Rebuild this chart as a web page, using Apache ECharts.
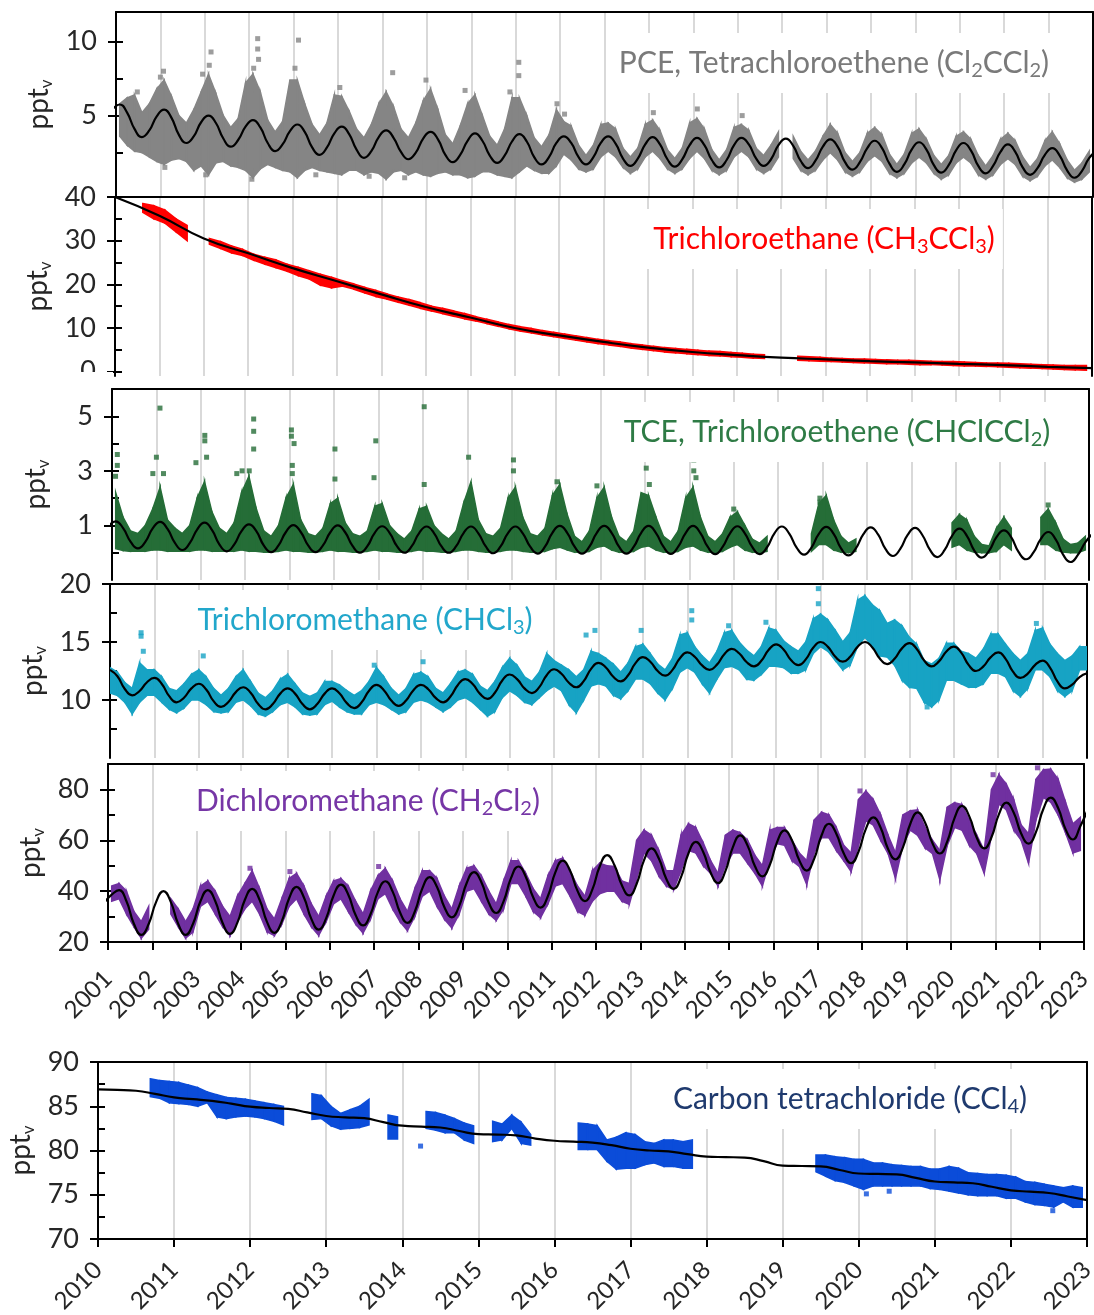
<!DOCTYPE html>
<html>
<head>
<meta charset="utf-8">
<title>Chlorinated trace gases</title>
<script src="https://cdn.jsdelivr.net/npm/echarts@6.0.0/dist/echarts.min.js"></script>
<style>
  html, body { margin: 0; padding: 0; background: #fff; }
  #chart { width: 1094px; height: 1315px; }
</style>
</head>
<body>
<div id="chart"></div>
<script>
// ---------- values ----------
// 2-monthly samples. fits start at 2000.917, scatter envelopes (lo/hi) start at 2001.083

// PCE
const pceFit = [5.4,
  5.75,5.2,4.1,3.55,4.0,4.95,   5.4,4.85,3.7,3.15,3.6,4.55,   5.0,4.5,3.45,2.9,3.35,4.25,
  4.7,4.2,3.15,2.6,3.05,3.95,   4.4,3.9,2.85,2.35,2.85,3.8,   4.25,3.75,2.7,2.15,2.6,3.55,
  4.0,3.5,2.55,2.05,2.5,3.45,   3.9,3.4,2.35,1.85,2.35,3.3,   3.8,3.3,2.3,1.8,2.3,3.25,
  3.75,3.25,2.2,1.7,2.2,3.15,   3.6,3.15,2.2,1.7,2.2,3.15,    3.6,3.1,2.1,1.6,2.1,3.05,
  3.55,3.05,2.05,1.55,2.05,3.0, 3.5,3.0,2.0,1.5,2.0,3.0,      3.5,3.05,2.1,1.6,2.05,3.0,
  3.45,2.95,1.95,1.45,1.95,2.9, 3.4,2.9,1.85,1.35,1.85,2.8,   3.3,2.8,1.75,1.2,1.7,2.7,
  3.2,2.7,1.65,1.15,1.65,2.65,  3.15,2.65,1.6,1.1,1.6,2.55,   3.05,2.55,1.5,1.0,1.45,2.35,
  2.8,2.3,1.3,0.8,1.25,2.15,
  2.6];
const pceLo = [
  3.6,3.0,2.6,2.5,2.2,1.9,  1.7,2.0,2.1,1.9,1.3,1.6,  1.0,1.8,1.9,1.6,1.5,1.3,  0.8,1.4,1.7,1.5,1.3,1.2,
  0.8,1.3,1.5,1.3,1.2,1.1,  1.0,1.3,1.3,1.0,1.2,1.1,  0.7,1.2,1.3,1.0,1.2,1.0,  0.9,1.1,1.2,1.0,1.0,0.8,
  0.9,1.2,1.2,1.0,0.9,0.8,  1.2,1.6,1.3,1.1,1.1,1.6,  2.4,2.0,1.4,1.2,1.4,2.2,  2.6,2.2,1.5,1.1,1.4,2.2,
  2.6,2.1,1.4,1.1,1.4,2.1,  2.6,2.1,1.3,1.0,1.3,2.2,  2.6,2.2,1.4,1.1,1.4,2.2,  null,2.1,1.3,1.0,1.3,2.0,
  2.5,2.0,1.2,0.9,1.2,1.9,  2.3,1.9,1.1,0.8,1.1,1.8,  2.2,1.8,1.1,0.7,1.0,1.8,  2.2,1.8,1.0,0.7,1.0,1.7,
  2.1,1.7,0.9,0.6,0.9,1.6,  2.0,1.5,0.8,0.5,0.7,1.2];
const pceHi = [
  5.8,6.2,6.4,5.2,5.8,6.8,  7.4,6.3,5.0,4.5,5.4,6.6,  7.8,6.5,5.0,4.2,4.8,7.2,  7.8,6.6,4.7,3.9,4.6,7.4,
  7.4,5.8,4.4,3.7,4.5,6.4,  6.3,5.3,4.1,3.5,4.4,5.8,  6.6,5.6,4.1,3.5,4.5,6.0,  6.8,5.4,3.7,3.1,4.3,5.8,
  6.4,5.0,3.6,3.0,4.1,6.2,  6.2,5.0,3.5,2.9,3.7,5.4,  4.6,4.3,3.0,2.3,3.0,4.4,  4.5,4.1,2.8,2.2,2.8,4.4,
  4.7,4.0,2.7,2.1,2.8,4.5,  4.8,4.1,2.7,2.0,2.7,4.2,  4.4,4.0,2.8,2.3,3.0,3.9,  null,3.6,2.6,2.0,2.6,3.6,
  4.4,3.8,2.5,1.9,2.5,3.8,  4.2,3.7,2.4,1.7,2.4,3.8,  4.1,3.4,2.3,1.7,2.3,3.6,  3.9,3.4,2.3,1.6,2.3,3.4,
  3.8,3.3,2.2,1.5,2.1,3.3,  3.9,3.1,2.0,1.3,1.8,2.6];
const pceSpikes = [[2001.48,6.6],[2002.07,8.0],[2002.0,7.6],[2003.14,9.3],[2002.95,7.8],[2003.1,8.4],[2004.19,10.2],
  [2004.19,9.5],[2004.21,8.8],[2004.1,8.2],[2005.11,10.1],[2005.03,8.2],[2006.04,6.9],[2007.23,7.9],[2007.98,7.4],
  [2008.86,6.7],[2010.07,8.6],[2010.07,7.7],[2009.87,6.6],[2010.93,5.8],[2014.09,5.45],[2015.1,5.0],
  [2011.1,5.1],[2013.1,5.2],[2003.02,1.0],[2004.06,0.7],[2002.1,1.5],[2005.5,1.0],[2006.7,0.9],[2007.5,0.8]];

// 1,1,1-trichloroethane: yearly fit from 2001, quarterly envelope from 2001.625
const tcaFit = [40,35.7,30.5,27.1,23.7,20.7,17.7,14.8,12.4,10.0,8.3,6.8,5.5,4.5,3.8,3.2,2.8,2.4,2.1,1.8,1.5,1.1,0.8];
const tcaLo = [36.5,35.0,
  34.0,32.0,30.0,null, 29.2,28.2,27.2,26.6, 25.5,24.6,23.8,23.0, 22.0,21.2,19.8,19.2,
  19.6,18.9,18.0,17.2, 16.6,15.9,15.2,14.5, 13.9,13.3,12.7,12.1, 11.6,11.0,10.4,9.8,
  9.3,8.9,8.4,8.0, 7.6,7.2,6.8,6.4, 6.1,5.8,5.4,5.1, 4.8,4.5,4.3,4.1, 3.9,3.7,3.6,3.4,
  3.3,3.1,3.0,null, null,2.6,2.5,2.4, 2.3,2.2,2.1,2.0, 1.9,1.8,1.8,1.7, 1.6,1.6,1.5,1.4,
  1.3,1.3,1.2,1.1, 1.0,0.9,0.8,0.7, 0.6,0.5,0.4,0.3];
const tcaHi = [38.5,38.0,
  37.0,35.0,33.5,null, 30.5,29.8,28.8,28.0, 26.9,26.2,25.6,24.6, 23.9,23.1,22.3,21.6,
  20.8,20.1,19.3,18.6, 17.8,17.1,16.5,15.8, 15.0,14.5,13.9,13.3, 12.6,12.0,11.4,10.8,
  10.3,9.9,9.4,9.0, 8.6,8.2,7.8,7.4, 7.1,6.8,6.4,6.1, 5.8,5.5,5.3,5.1, 4.9,4.7,4.6,4.4,
  4.2,4.0,3.9,null, null,3.5,3.4,3.3, 3.1,3.0,2.9,2.9, 2.8,2.7,2.6,2.6, 2.5,2.4,2.3,2.3,
  2.2,2.1,2.0,2.0, 1.9,1.8,1.7,1.6, 1.5,1.4,1.4,1.4];

// TCE
const tceFit = [0.95,
  1.15,0.9,0.41,0.16,0.4,0.89,  1.13,0.87,0.36,0.10,0.35,0.85, 1.10,0.84,0.31,0.05,0.3,0.79,
  1.04,0.79,0.27,0.02,0.27,0.76, 1.01,0.76,0.27,0.02,0.27,0.75, 1.0,0.75,0.25,0.0,0.24,0.73,
  0.97,0.73,0.24,0.0,0.24,0.72, 0.96,0.72,0.24,0.0,0.24,0.72,  0.96,0.71,0.23,-0.02,0.23,0.72,
  0.96,0.71,0.22,-0.03,0.22,0.73, 0.98,0.73,0.22,-0.03,0.22,0.73, 0.98,0.73,0.22,-0.03,0.22,0.73,
  0.98,0.72,0.22,-0.04,0.22,0.72, 0.98,0.72,0.21,-0.05,0.21,0.71, 0.97,0.71,0.21,-0.05,0.2,0.71,
  0.96,0.7,0.19,-0.07,0.19,0.69, 0.95,0.69,0.16,-0.1,0.16,0.67, 0.93,0.67,0.14,-0.12,0.14,0.65,
  0.91,0.64,0.11,-0.16,0.1,0.62, 0.88,0.62,0.08,-0.18,0.07,0.57, 0.82,0.56,0.02,-0.24,0.01,0.51,
  0.76,0.49,-0.07,-0.34,-0.08,0.38,
  0.7];
const tceLo = [
  0.15,0.08,0.05,0.05,0.05,0.1, 0.1,0.05,0.05,0.05,0.05,0.1, 0.1,0.05,0.05,0.05,0.05,0.1, 0.05,0.05,0.02,0.02,0.05,0.1,
  0.05,0.05,0.02,0.02,0.05,0.1, 0.05,0.05,0.02,0.02,0.05,0.1, 0.05,0.05,0.02,0.02,0.05,0.1, 0.05,0.05,0.02,0.02,0.05,0.1,
  0.1,0.05,0.02,0.02,0.05,0.1, 0.1,0.05,0.02,0.02,0.05,0.15, 0.2,0.1,0.02,0.0,0.05,0.2, 0.25,0.1,0.02,0.0,0.05,0.2,
  0.25,0.1,0.02,0.0,0.05,0.2, 0.25,0.1,0.02,0.0,0.05,0.2, 0.3,0.1,0.02,0.0,0.05,null, null,null,null,null,0.05,0.3,
  0.3,0.1,0.02,0.0,0.05,null, null,null,null,null,null,null, null,null,null,null,null,0.2, 0.3,0.1,0.02,0.0,0.0,0.05,
  0.3,0.1,null,null,null,0.3, 0.3,0.1,0.02,0.0,0.0,0.1];
const tceHi = [
  2.2,1.3,0.8,0.7,1.0,1.6, 2.4,1.2,0.9,0.7,1.0,2.0, 2.6,1.5,0.9,0.7,1.1,2.2, 2.8,1.6,0.8,0.6,1.0,2.0,
  2.5,1.2,0.7,0.6,0.9,1.8, 2.0,1.1,0.7,0.6,0.8,1.7, 1.8,1.0,0.7,0.5,0.8,1.6, 1.7,1.0,0.7,0.5,0.8,1.8,
  2.6,1.2,0.7,0.6,0.9,2.0, 2.4,1.3,0.7,0.6,0.9,2.1, 2.5,1.4,0.6,0.4,0.8,2.0, 2.4,1.3,0.6,0.4,0.8,2.2,
  2.1,1.3,0.6,0.4,0.8,2.0, 2.4,1.3,0.6,0.4,0.7,1.3, 1.5,1.0,0.5,0.35,0.6,null, null,null,null,null,0.7,1.8,
  2.1,1.2,0.6,0.35,0.5,null, null,null,null,null,null,null, null,null,null,null,null,1.1, 1.4,1.2,0.6,0.3,0.25,0.9,
  1.3,0.9,null,null,null,1.3, 1.6,1.1,0.5,0.3,0.35,0.6];
const tceSpikes = [[2001.12,3.6],[2001.12,3.2],[2001.08,2.8],[2002.08,5.3],[2002.0,3.5],[2001.92,2.9],[2002.16,2.9],
  [2003.09,4.3],[2003.09,4.1],[2003.13,3.5],[2002.89,3.3],[2004.19,4.9],[2004.19,4.45],[2004.19,3.8],[2004.09,3.0],
  [2003.81,2.9],[2003.93,3.0],[2005.04,4.5],[2005.04,4.27],[2005.1,4.0],[2005.06,3.2],[2005.06,2.9],[2006.02,3.8],
  [2006.02,2.7],[2006.94,4.1],[2006.9,2.75],[2008.03,5.35],[2008.03,2.5],[2009.03,3.5],[2010.04,3.4],[2010.04,3.0],
  [2011.02,2.6],[2011.92,2.45],[2013.03,3.57],[2013.03,3.1],[2013.1,2.5],[2014.1,3.4],[2014.1,3.0],[2014.15,2.75],
  [2015.0,1.6],[2016.94,2.0],[2016.94,1.85],[2022.08,1.75]];

// chloroform: fit and envelope both 2-monthly from 2001.0
const chcl3Fit = [
  12.6,12.05,10.95,10.4,10.78,11.53, 11.9,11.38,10.33,9.8,10.2,11.0, 11.4,10.9,9.9,9.4,9.83,10.68,
  11.1,10.63,9.68,9.2,9.65,10.55, 11.0,10.55,9.65,9.2,9.65,10.55, 11.0,10.58,9.73,9.3,9.8,10.8,
  11.3,10.85,9.95,9.5,9.95,10.85, 11.3,10.93,10.18,9.8,10.3,11.3, 11.8,11.38,10.53,10.1,10.63,11.68,
  12.2,11.8,11.0,10.6,11.11,12.14, 12.65,12.26,11.49,11.1,11.63,12.68, 13.2,12.8,12.0,11.6,12.13,13.18,
  13.7,13.3,12.5,12.1,12.6,13.6, 14.1,13.73,12.98,12.6,13.05,13.95, 14.4,14.03,13.28,12.9,13.38,14.33,
  14.8,14.35,13.45,13.0,13.5,14.5, 15.0,14.58,13.73,13.3,13.73,14.58, 15.0,14.53,13.58,13.1,13.55,14.45,
  14.9,14.4,13.4,12.9,13.33,14.18, 14.6,14.08,13.03,12.5,12.9,13.7, 14.1,13.55,12.45,11.9,12.28,13.03,
  13.4,12.8,11.6,11.0,11.33,11.98,
  12.3];
const chcl3Lo = [
  10.6,10.4,9.8,8.8,9.8,10.4, 10.4,9.8,9.2,8.9,9.3,10.0, 10.0,9.6,9.0,8.9,9.0,9.8, 10.0,9.5,8.8,8.6,9.0,9.6,
  9.8,9.4,8.8,8.7,8.8,9.6, 9.9,9.4,9.0,8.8,8.8,9.6, 9.8,9.6,9.2,8.8,9.0,9.8, 10.0,9.8,9.4,9.0,9.4,10.0,
  10.2,9.8,9.2,8.6,9.0,10.2, 10.8,10.4,9.8,9.6,10.2,10.8, 11.2,10.8,9.6,8.9,10.0,11.2, 11.4,11.2,10.4,10.1,10.8,11.8,
  11.8,11.4,10.6,10.0,11.0,12.4, 12.8,12.4,11.4,10.6,11.8,12.8, 12.9,12.6,11.8,11.7,12.2,12.9, 12.9,12.8,12.3,12.3,12.6,14.0,
  14.6,14.2,13.4,12.6,13.0,14.6, 15.4,14.6,13.8,13.7,13.0,11.7, 11.1,11.0,9.8,9.4,10.0,11.7, 11.7,11.4,11.1,11.1,11.4,12.3,
  12.3,12.0,10.8,10.3,11.0,12.6, 12.6,12.0,10.8,10.3,10.8,12.6,
  12.6];
const chcl3Hi = [
  12.8,12.4,11.5,11.0,13.2,12.6, 12.6,12.0,11.0,10.8,11.4,12.2, 12.6,12.0,11.0,10.4,11.0,12.0, 12.6,11.6,10.6,10.2,10.8,11.8,
  12.2,11.4,10.6,10.3,10.6,11.6, 11.6,11.3,10.8,10.4,10.8,11.6, 12.8,12.0,11.0,10.4,11.0,12.2, 12.4,12.0,11.0,10.6,11.4,12.4,
  12.6,12.2,11.2,10.8,11.6,12.8, 13.6,13.0,12.0,11.6,12.4,14.0, 13.4,13.0,12.6,12.0,12.6,14.2, 14.0,13.6,13.1,12.4,13.2,14.6,
  14.8,14.0,13.1,12.6,13.6,15.6, 15.8,14.6,13.8,13.2,14.2,15.8, 16.0,15.0,14.3,13.8,14.6,16.2, 16.0,15.1,14.6,14.2,15.0,17.0,
  17.4,16.9,16.0,15.0,15.8,18.6, 19.0,18.2,17.7,16.6,16.9,16.4, 15.4,14.8,13.4,13.1,13.6,14.9, 14.9,14.2,14.0,13.6,14.4,15.7,
  15.7,14.8,14.0,13.4,14.0,16.0, 16.2,14.8,14.0,13.4,13.8,14.6,
  14.6];
const chcl3Spikes = [[2001.7,15.8],[2001.7,15.5],[2001.75,14.2],[2003.1,13.8],[2006.95,13.0],[2008.05,13.3],
  [2011.72,15.6],[2011.92,16.0],[2012.96,16.0],[2014.1,17.7],[2014.1,16.9],[2014.93,16.4],[2015.77,16.7],
  [2016.95,19.6],[2016.95,18.3],[2021.86,16.6],[2019.4,9.4]];

// dichloromethane
const ch2cl2Fit = [35.5,
  38.6,40.4,36.0,27.2,22.8,27.1, 35.7,40.0,35.7,27.1,22.8,27.2, 36.0,40.4,36.1,27.5,23.2,27.6,
  36.5,40.9,36.6,27.9,23.6,28.1, 37.2,41.7,37.5,29.1,24.9,29.3, 38.2,42.6,38.6,30.5,26.5,30.9,
  39.6,43.9,39.8,31.6,27.5,32.0, 41.0,45.5,41.6,33.7,29.7,34.2, 43.1,47.5,43.5,35.4,31.4,36.0,
  45.1,49.7,45.7,37.6,33.5,38.1, 47.4,52.0,48.0,40.1,36.1,40.6, 49.7,54.2,50.2,42.3,38.3,42.9,
  52.2,56.8,52.8,44.9,40.9,45.5, 54.8,59.4,55.4,47.3,43.2,47.9, 57.2,61.9,57.9,49.8,45.8,50.3,
  59.4,63.9,60.0,52.1,48.1,52.7, 61.9,66.5,62.6,54.9,51.0,55.5, 64.5,69.0,64.9,56.6,52.5,57.1,
  66.4,71.0,67.0,58.9,54.8,59.5, 68.8,73.5,69.3,61.0,56.8,61.3, 70.3,74.8,70.8,62.7,58.7,63.2,
  72.3,76.8,72.7,64.4,60.3,65.5,
  72.0];
const ch2cl2Lo = [
  36,37,31,26,21.5,25, null,null,31,26,21.5,24, 34,36,31,26,22.5,28, 33,36,31,24,22.5,27,
  34,37,31,26,22.6,28, 35,37,32,27,23.5,29, 37,39,33,28,24.5,30, 38,40,34,29,25.5,31,
  40,41,36,31,28.5,33, 43,43,38,32,29.5,35, 42,43,38,32,30.5,36, 39,40,40,36,34.8,45,
  55,52,46,42,40.6,48, 56,55,50,47,42,50, 55,55,51,47,42,52, 58.7,58,52,49.7,42.6,55,
  61,61,56,52,47.7,58, 67.7,66,60,54.8,45,58, 64,62,57,54.8,44.5,58, 65,64,58,54.8,47,62,
  74.2,72,64,60,51,68, 76.8,75,70,63,55,56];
const ch2cl2Hi = [
  42,43,40,32,28,34, null,null,37,33,28,33, 42,44,40,34,30,38, 43,48,41,33,29,37,
  45,47,42,35,30,38, 44,45,42,36,31,40, 46,49,44,37,32,41, 48,48,45,38,33,42,
  49,50,46,40,35,44, 52,52,47,41,37,46, 52,53,48,42,38,48, 51,50,49.7,44,43,60,
  64,62,56,48,48,62, 66.5,65,59,52,47,62, 64,63,60,54,50,64, 65,65,60,55,52,68,
  71,70,65,58,55,76, 79.4,76,70,62,55,70, 71.6,72,65,60,56,73, 74.8,74,67.7,62,56,80,
  85.8,82,76,66,62.6,84, 87.7,88,84,75,66.5,69];
const ch2cl2Spikes = [[2005.1,47.7],[2007.1,49.7],[2004.2,49.0],[2017.95,79.4],[2020.95,85.8],[2021.95,88.5],[2022.75,58.5]];

// carbon tetrachloride: quarterly fit from 2010, envelope in 1/8-year bins from 2010.0625
const ccl4Fit = [
  86.9,86.85,86.75,86.4, 86.0,85.8,85.6,85.3, 84.95,84.8,84.7,84.3, 83.9,83.75,83.65,83.2,
  82.8,82.7,82.6,82.2, 81.85,81.8,81.7,81.35, 81.1,81.0,80.9,80.6, 80.2,80.0,79.9,79.6,
  79.3,79.25,79.2,78.8, 78.3,78.25,78.2,77.8, 77.4,77.35,77.3,76.9, 76.5,76.4,76.3,75.9,
  75.5,75.35,75.2,74.8, 74.4];
const ccl4Lo = [
  null,null,null,null,null,86.1,85.9,85.4,  85.3,85.2,85.0,85.4,83.8,83.6,83.8,83.9,
  83.8,83.6,83.3,82.9,null,null,83.5,83.6,  82.8,82.4,82.5,82.6,82.9,null,81.3,81.3,
  null,null,82.5,82.3,82.0,82.0,81.2,80.8,  null,81.0,81.2,82.5,80.8,80.6,null,null,
  null,null,80.1,80.1,80.1,78.8,77.9,78.0,  78.0,78.4,78.6,78.2,78.2,78.0,78.0,null,
  null,null,null,null,null,null,null,null,  null,null,null,77.6,77.1,76.6,76.4,76.0,
  75.6,76.0,76.0,76.0,76.0,76.0,76.0,75.7,  75.6,75.4,75.2,75.0,74.9,74.9,74.9,74.6,
  74.6,74.2,73.9,73.8,73.6,74.2,73.6,73.6];
const ccl4Hi = [
  null,null,null,null,null,88.1,87.9,87.8,  87.7,87.4,87.1,86.6,86.3,86.0,85.9,85.8,
  85.6,85.4,85.2,85.0,null,null,86.4,86.2,  85.0,84.2,84.6,85.0,85.8,null,84.0,83.8,
  null,null,84.4,84.3,84.0,83.6,83.1,82.8,  null,83.3,83.0,84.0,83.2,81.8,null,null,
  null,null,83.1,83.0,82.8,81.2,81.5,82.0,  81.8,81.0,80.8,81.2,81.2,81.0,81.2,null,
  null,null,null,null,null,null,null,null,  null,null,null,79.5,79.5,79.3,79.2,79.0,
  79.0,78.6,78.6,78.4,78.3,78.2,78.2,77.9,  77.9,78.2,78.0,77.5,77.4,77.3,77.3,77.2,
  77.0,76.5,76.4,76.2,76.0,75.8,76.0,75.8];
const ccl4Spikes = [[2014.24,80.5],[2022.55,73.2],[2020.1,75.1],[2020.4,75.4],[2011.4,86.2]];

// ---------- layout ----------
const FONT = 'Lato, "Open Sans", sans-serif';
const INK = '#262626';
const panels = [
  { left: 116, top: 12,   width: 977, height: 185, xmin: 2001, ymin: -0.5, ymax: 12, labels: [5, 10], major: [5, 10], all: [2.5, 5, 7.5, 10] },
  { left: 115, top: 197,  width: 977, height: 179, xmin: 2001, ymin: -1, ymax: 40, labels: [0, 10, 20, 30, 40], major: [0, 10, 20, 30, 40], all: [0, 5, 10, 15, 20, 25, 30, 35, 40] },
  { left: 112, top: 389,  width: 977, height: 191, xmin: 2001, ymin: -1, ymax: 6, labels: [1, 3, 5], major: [1, 3, 5], all: [0, 1, 2, 3, 4, 5, 6] },
  { left: 110, top: 584,  width: 977, height: 174, xmin: 2001, ymin: 5, ymax: 20, labels: [10, 15, 20], major: [10, 15, 20], all: [7.5, 10, 12.5, 15, 17.5, 20] },
  { left: 108, top: 764,  width: 976, height: 178, xmin: 2001, ymin: 20, ymax: 90, labels: [20, 40, 60, 80], major: [20, 40, 60, 80], all: [20, 30, 40, 50, 60, 70, 80, 90], years: 33 },
  { left: 98,  top: 1062, width: 989, height: 177, xmin: 2010, ymin: 70, ymax: 90, labels: [70, 75, 80, 85, 90], major: [70, 75, 80, 85, 90], all: [70, 72.5, 75, 77.5, 80, 82.5, 85, 87.5, 90], years: 27 }
];

const axisLine = { show: true, onZero: false, lineStyle: { color: '#000', width: 2 } };
const grids = [], xAxes = [], yAxes = [];
panels.forEach((p, i) => {
  grids.push({ left: p.left, top: p.top, width: p.width, height: p.height, containLabel: false, outerBoundsMode: 'none' });
  xAxes.push({
    gridIndex: i, type: 'value', position: 'bottom', min: p.xmin, max: 2023, interval: 1,
    axisLine: { ...axisLine, show: !!p.years },
    axisTick: { show: !!p.years, length: 8, lineStyle: { color: '#000', width: 2 } },
    axisLabel: { show: !!p.years, rotate: 45, fontSize: 24, color: INK, fontFamily: FONT, margin: p.years || 10,
      showMinLabel: true, showMaxLabel: true, formatter: v => String(v) },
    splitLine: { show: true, lineStyle: { color: '#D9D9D9', width: 2 } }
  });
  xAxes.push({ gridIndex: i, type: 'value', position: 'top', min: 0, max: 1, axisLine,
    axisTick: { show: false }, axisLabel: { show: false }, splitLine: { show: false } });
  yAxes.push({
    gridIndex: i, type: 'value', position: 'left', min: p.ymin, max: p.ymax,
    axisLine,
    axisTick: { show: true, length: 8, customValues: p.major, lineStyle: { color: '#000', width: 2 } },
    axisLabel: { customValues: p.labels, fontSize: 27, color: INK, fontFamily: FONT, margin: 19, formatter: v => String(v) },
    splitLine: { show: false },
    name: '{a|ppt}{b|v}', nameLocation: 'middle', nameRotate: 90, nameGap: 60,
    nameTextStyle: { color: INK, fontFamily: FONT,
      rich: { a: { fontSize: 28, lineHeight: 32, fontFamily: FONT, color: INK },
              b: { fontSize: 17, lineHeight: 17, verticalAlign: 'bottom', fontFamily: FONT, color: INK } } }
  });
  yAxes.push({ gridIndex: i, type: 'value', position: 'left', min: p.ymin, max: p.ymax,
    axisLine: { show: false }, axisLabel: { show: false }, splitLine: { show: false },
    axisTick: { show: true, inside: true, length: 7, customValues: p.all, lineStyle: { color: '#000', width: 2 } } });
  yAxes.push({ gridIndex: i, type: 'value', position: 'right', min: 0, max: 1, axisLine,
    axisTick: { show: false }, axisLabel: { show: false }, splitLine: { show: false } });
});

function xs(t0, step, n) { return Array.from({ length: n }, (_, i) => t0 + i * step); }

// scatter envelope: trapezoids between neighbouring bins, small box for lone bins
function band(p, t0, step, lo, hi, color) {
  const t = xs(t0, step, lo.length);
  const ok = i => i >= 0 && i < lo.length && lo[i] != null && hi[i] != null;
  const data = [];
  lo.forEach((v, i) => {
    if (!ok(i)) return;
    if (ok(i + 1)) data.push([t[i], v, hi[i], t[i + 1], lo[i + 1], hi[i + 1]]);
    else if (!ok(i - 1)) data.push([t[i] - step * 0.3, v, hi[i], t[i] + step * 0.3, v, hi[i]]);
  });
  return {
    type: 'custom', xAxisIndex: 2 * p, yAxisIndex: 3 * p, clip: true, silent: true, z: 2,
    encode: { x: [0, 3], y: [1, 2, 4, 5] },
    renderItem: (params, api) => {
      const pts = [
        api.coord([api.value(0), api.value(2)]), api.coord([api.value(3), api.value(5)]),
        api.coord([api.value(3), api.value(4)]), api.coord([api.value(0), api.value(1)])
      ];
      return { type: 'polygon', shape: { points: pts }, style: { fill: color, stroke: color, lineWidth: 1.5 } };
    },
    data
  };
}
function fit(p, t0, step, vals) {
  return { type: 'line', xAxisIndex: 2 * p, yAxisIndex: 3 * p, silent: true, z: 4, smooth: true,
    symbol: 'none', lineStyle: { color: '#000', width: 2.2 },
    data: xs(t0, step, vals.length).map((t, i) => [t, vals[i]]) };
}
function dots(p, pts, color) {
  return { type: 'scatter', xAxisIndex: 2 * p, yAxisIndex: 3 * p, silent: true, z: 3,
    symbol: 'rect', symbolSize: 5, itemStyle: { color }, data: pts };
}

const C = { pce: '#858585', tca: '#FF0000', tce: '#256D37', chcl3: '#17A3C4', ch2cl2: '#7030A0', ccl4: '#0B4CD9' };
const s6 = 1 / 6, b0 = 2001 + 1 / 12, f0 = 2001 - 1 / 12;
const series = [
  band(0, b0, s6, pceLo, pceHi, C.pce), dots(0, pceSpikes, C.pce), fit(0, f0, s6, pceFit),
  band(1, 2001.625, 0.25, tcaLo, tcaHi, C.tca), fit(1, 2001, 1, tcaFit),
  band(2, b0, s6, tceLo, tceHi, C.tce), dots(2, tceSpikes, C.tce), fit(2, f0, s6, tceFit),
  band(3, 2001, s6, chcl3Lo, chcl3Hi, C.chcl3), dots(3, chcl3Spikes, C.chcl3), fit(3, 2001, s6, chcl3Fit),
  band(4, b0, s6, ch2cl2Lo, ch2cl2Hi, C.ch2cl2), dots(4, ch2cl2Spikes, C.ch2cl2), fit(4, f0, s6, ch2cl2Fit),
  band(5, 2010.0625, 0.125, ccl4Lo, ccl4Hi, C.ccl4), dots(5, ccl4Spikes, C.ccl4), fit(5, 2010, 0.25, ccl4Fit)
];

function label(x, y, text, color) {
  return { type: 'text', x, y, z: 100, silent: true,
    style: { text, fill: color, align: 'center', verticalAlign: 'middle', backgroundColor: '#fff', padding: [12, 8],
      rich: { a: { fontSize: 30, lineHeight: 36, fontFamily: FONT, fill: color },
              s: { fontSize: 20, lineHeight: 20, verticalAlign: 'bottom', fontFamily: FONT, fill: color } } } };
}
const graphic = [
  { type: 'rect', z: 100, silent: true, shape: { x: 0, y: 372, width: 113, height: 16 }, style: { fill: '#fff' } },
  label(834, 63, '{a|PCE, Tetrachloroethene (Cl}{s|2}{a|CCl}{s|2}{a|)}', '#7A7A7A'),
  label(824, 239, '{a|Trichloroethane (CH}{s|3}{a|CCl}{s|3}{a|)}', '#FF0000'),
  label(837, 432, '{a|TCE, Trichloroethene (CHClCCl}{s|2}{a|)}', '#2E7B45'),
  label(365, 620, '{a|Trichloromethane (CHCl}{s|3}{a|)}', '#22A7CB'),
  label(368, 801, '{a|Dichloromethane (CH}{s|2}{a|Cl}{s|2}{a|)}', '#7636A6'),
  label(850, 1099, '{a|Carbon tetrachloride (CCl}{s|4}{a|)}', '#1F3A6E')
];

const chart = echarts.init(document.getElementById('chart'));
chart.setOption({
  animation: false,
  backgroundColor: '#fff',
  grid: grids,
  xAxis: xAxes,
  yAxis: yAxes,
  series,
  graphic
});
</script>
</body>
</html>
